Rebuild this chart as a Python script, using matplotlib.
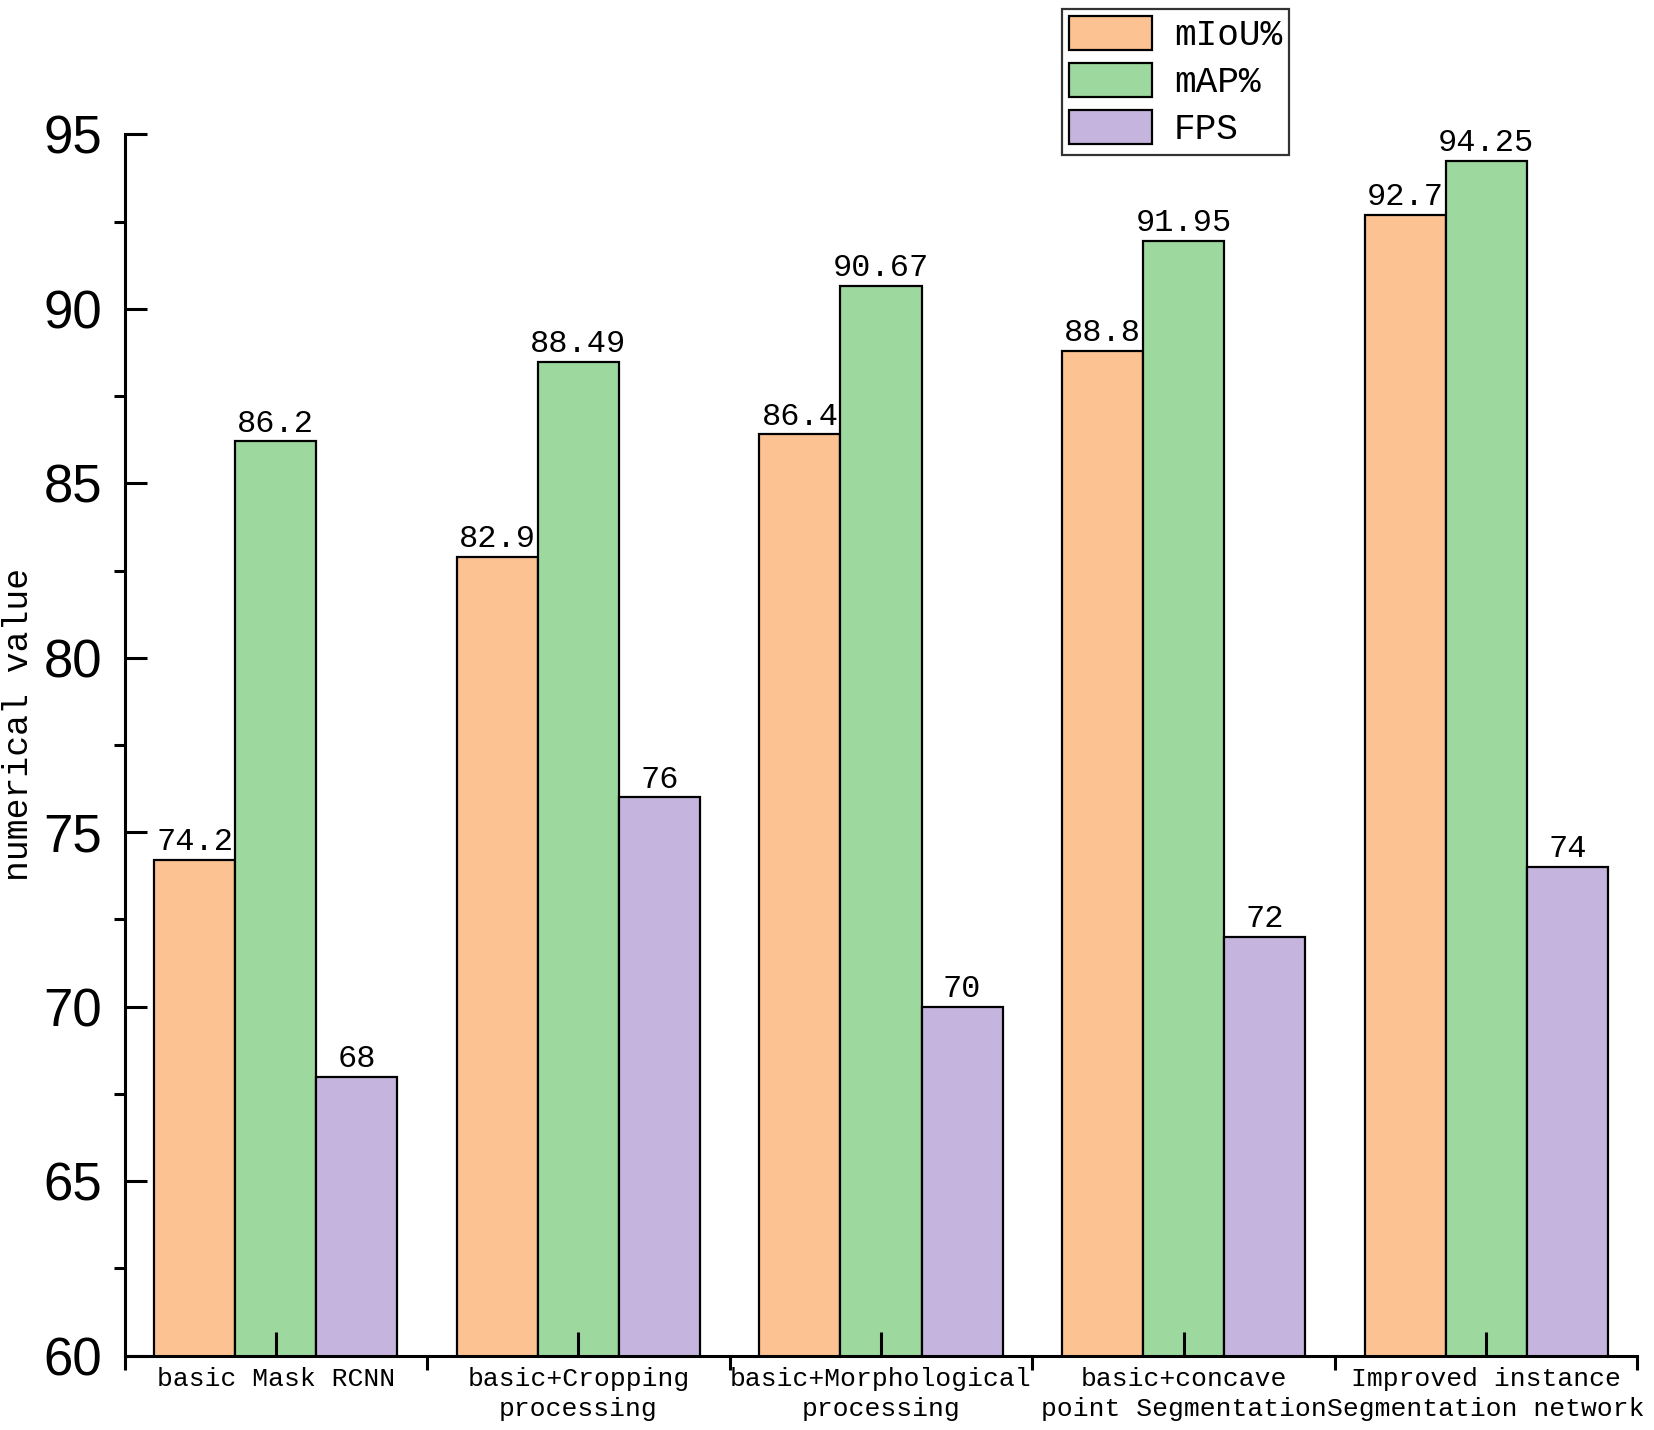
import matplotlib
matplotlib.use("Agg")
import matplotlib.pyplot as plt
from matplotlib.ticker import MultipleLocator, FixedLocator
import numpy as np

categories = ["basic Mask RCNN", "basic+Cropping\nprocessing", "basic+Morphological\nprocessing",
              "basic+concave\npoint Segmentation", "Improved instance\nSegmentation network"]
series_names = ["mIoU%", "mAP%", "FPS"]
miou = [74.2, 82.9, 86.4, 88.8, 92.7]
map_ = [86.2, 88.49, 90.67, 91.95, 94.25]
fps = [68, 76, 70, 72, 74]
y_ticks = [60, 65, 70, 75, 80, 85, 90, 95]

colors = ["#FCC291", "#9DD89E", "#C5B4DE"]
mono = "Liberation Mono"

fig = plt.figure(figsize=(16.54, 14.30), dpi=100)
ax = fig.add_axes([0.0753, 0.052, 0.9147, 0.854])

x = np.arange(len(categories))
w = 0.268
for i, (vals, name, c) in enumerate(zip([miou, map_, fps], series_names, colors)):
    bars = ax.bar(x + (i - 1) * w, vals, width=w, color=c, edgecolor="black",
                  linewidth=1.6, label=name, zorder=2)
    ax.bar_label(bars, labels=[f"{v:g}" for v in vals], padding=2,
                 fontsize=23, family=mono, color="black")

ax.set_xlim(-0.5, len(categories) - 0.5)
ax.set_ylim(60, 95)

for s in ["top", "right"]:
    ax.spines[s].set_visible(False)
for s in ["left", "bottom"]:
    ax.spines[s].set_linewidth(2.2)
    ax.spines[s].set_zorder(3)

ax.set_yticks(y_ticks)
ax.yaxis.set_minor_locator(MultipleLocator(2.5))
ax.tick_params(axis="y", which="major", direction="in", length=16, width=2.2,
               pad=16, labelsize=38)
ax.tick_params(axis="y", which="minor", direction="out", length=8, width=2.2)
for lab in ax.get_yticklabels():
    lab.set_family("Liberation Sans")

ax.set_xticks(x)
ax.set_xticklabels(categories, family=mono, fontsize=19, linespacing=1.35)
ax.xaxis.set_minor_locator(FixedLocator(np.arange(-0.5, len(categories), 1.0)))
ax.tick_params(axis="x", which="major", direction="in", length=17, width=2.2, pad=8)
ax.tick_params(axis="x", which="minor", direction="out", length=10, width=2.2)
for t in ax.xaxis.get_major_ticks():
    t.tick1line.set_zorder(4)
ax.set_axisbelow(False)

ax.set_ylabel("numerical value", family=mono, fontsize=25)
ax.yaxis.set_label_coords(-0.059, 0.517)

leg = fig.legend(loc="upper left", bbox_to_anchor=(0.642, 0.994),
                 prop={"family": mono, "size": 26}, frameon=True, fancybox=False,
                 edgecolor="black", handlelength=2.3, handleheight=1.1,
                 labelspacing=0.26, borderpad=0.2, handletextpad=0.6,
                 borderaxespad=0.0)
leg.get_frame().set_linewidth(1.6)

fig.savefig("out.png", dpi=100, facecolor="white")
